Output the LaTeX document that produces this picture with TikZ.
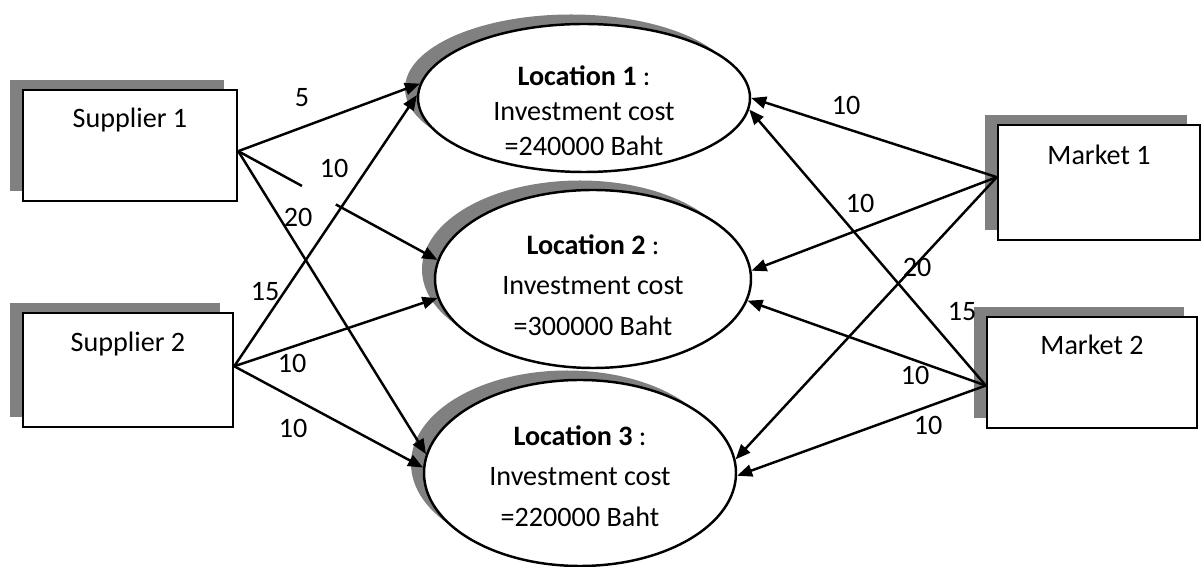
\documentclass[tikz,border=0pt]{standalone}
\usepackage{fontspec}
\setmainfont{Carlito}
\usetikzlibrary{arrows.meta,shapes.geometric,shadows,calc}
\colorlet{netline}{black}
\colorlet{netshade}{black!50}
\tikzset{
  netshadow/.style={general shadow={shadow xshift=-2.6mm,shadow yshift=1.9mm,
                    fill=netshade}},
  netbox/.style={rectangle,draw=netline,line width=1.4pt,fill=white,netshadow,
                 inner sep=0pt,text height=10pt,text depth=10.8mm},
  netloc/.style={ellipse,draw=netline,line width=1.4pt,fill=white,netshadow,
                 inner sep=0pt},
  netloctext/.style={align=center,inner sep=0pt,font=\fontsize{16}{#1}\selectfont},
  netlink/.style={line width=1.4pt,netline},
  netarrow/.style={netlink,-{Triangle[length=3mm,width=2.4mm]}},
  netlabel/.style={font=\fontsize{16}{19}\selectfont,inner sep=0pt}
}

\begin{document}
\begin{tikzpicture}[x=0.2mm,y=-0.2mm,font=\fontsize{16}{20}\selectfont]
  \useasboundingbox (0,0) rectangle (1202,567);

  % sources and markets
  \node[netbox,minimum width=42.8mm,minimum height=22.2mm] (sup1) at (130,145.5) {Supplier 1};
  \node[netbox,minimum width=42mm,minimum height=22.8mm] (sup2) at (128,370) {Supplier 2};
  \node[netbox,minimum width=40.4mm,minimum height=23mm] (mkt1) at (1099,182.5) {Market 1};
  \node[netbox,minimum width=42mm,minimum height=22.2mm] (mkt2) at (1092,372.5) {Market 2};

  % candidate locations
  \node[netloc,minimum width=66.4mm,minimum height=29.6mm] (loc1) at (584,98) {};
  \node[netloc,minimum width=63.2mm,minimum height=35.6mm] (loc2) at (593,279) {};
  \node[netloc,minimum width=62.4mm,minimum height=37.2mm] (loc3) at (580,473) {};
  \node[netloctext=20pt] (loc1txt) at (584,111)
    {\textbf{Location 1} :\\Investment cost\\=240000 Baht};
  \node[netloctext=23pt] (loc2txt) at (593,285)
    {\textbf{Location 2} :\\Investment cost\\=300000 Baht};
  \node[netloctext=23pt] (loc3txt) at (580,476)
    {\textbf{Location 3} :\\Investment cost\\=220000 Baht};

  % supplier side
  \draw[netarrow] (sup1.-3) -- (loc1.175);
  \draw[netlink] (sup1.-3) -- ($(sup1.-3)!0.32!(loc2.173)$);
  \draw[netarrow] ($(sup1.-3)!0.49!(loc2.173)$) -- (loc2.173);
  \draw[netarrow] (sup1.-3) -- (loc3.173);
  \draw[netarrow] (sup2.2) -- (loc1.179);
  \draw[netarrow] (sup2.2) -- (loc2.187);
  \draw[netarrow] (sup2.2) -- (loc3.178);

  % market side
  \draw[netarrow] (mkt1.177) -- (loc1.0);
  \draw[netarrow] (mkt1.177) -- (loc2.3);
  \draw[netarrow] (mkt1.177) -- (loc3.5);
  \draw[netarrow] (mkt2.187) -- (loc1.356);
  \draw[netarrow] (mkt2.187) -- (loc2.352);
  \draw[netarrow] (mkt2.187) -- (loc3.359);

  \node[netlabel] (w11) at (302,98) {5};
  \node[netlabel] (w12) at (334,168) {10};
  \node[netlabel] (w13) at (298,217) {20};
  \node[netlabel] (w21) at (265,292) {15};
  \node[netlabel] (w22) at (292,363) {10};
  \node[netlabel] (w23) at (293,428) {10};
  \node[netlabel] (m11) at (846,105) {10};
  \node[netlabel] (m12) at (860,203) {10};
  \node[netlabel] (m13) at (917,267) {20};
  \node[netlabel] (m21) at (962,312) {15};
  \node[netlabel] (m22) at (915,375) {10};
  \node[netlabel] (m23) at (928,425) {10};
\end{tikzpicture}
\end{document}
